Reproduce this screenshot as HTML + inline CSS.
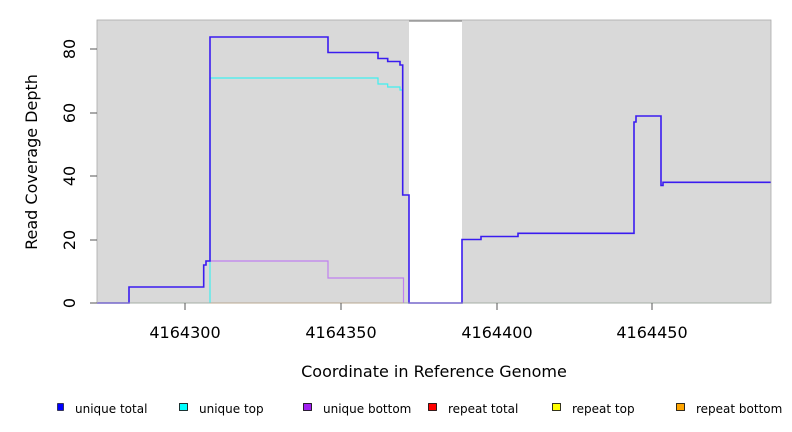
<!DOCTYPE html>
<html><head><style>body{margin:0;background:#fff}svg{display:block}</style></head><body>
<svg width="792" height="432" xmlns="http://www.w3.org/2000/svg" font-family="DejaVu Sans, sans-serif">
<rect x="97" y="20" width="674" height="283" fill="#d9d9d9"/>
<rect x="409" y="20" width="53" height="283" fill="#fff"/>
<line x1="409" y1="21" x2="462" y2="21" stroke="#888" stroke-width="1.2"/>
<line x1="97" y1="303" x2="771" y2="303" stroke="#8fbf8f" stroke-width="1"/>
<line x1="210" y1="303" x2="403" y2="303" stroke="#f0a030" stroke-width="1"/>
<polyline fill="none" stroke="#40f0f0" stroke-width="1.2" points="210,303 210,78 378,78 378,84 387.7,84 387.7,87 400,87 400,90 403,90"/>
<polyline fill="none" stroke="#c080f0" stroke-width="1.2" points="206,265 206,261 328,261 328,278 403.5,278 403.5,303"/>
<polyline fill="none" stroke="#3a1cf0" stroke-width="1.6" points="97,303 129,303 129,287 203.7,287 203.7,265 206,265 206,261 210,261 210,37 328,37 328,52.5 378,52.5 378,58.5 387.7,58.5 387.7,61.5 400,61.5 400,65 402.7,65 402.7,195 409,195 409,303 462,303 462,239.5 481,239.5 481,236.5 518,236.5 518,233.3 634,233.3 634,122 636,122 636,116 661,116 661,185.5 663,185.5 663,182.3 771,182.3"/>
<rect x="97" y="20" width="674" height="283" fill="none" stroke="#aaa" stroke-width="0.8"/>
<g stroke="#555" stroke-width="1">
<line x1="90" y1="303" x2="97" y2="303"/><line x1="90" y1="240" x2="97" y2="240"/><line x1="90" y1="176" x2="97" y2="176"/><line x1="90" y1="113" x2="97" y2="113"/><line x1="90" y1="49" x2="97" y2="49"/>
<line x1="185" y1="303" x2="185" y2="310"/><line x1="341" y1="303" x2="341" y2="310"/><line x1="497" y1="303" x2="497" y2="310"/><line x1="652" y1="303" x2="652" y2="310"/>
</g>
<g font-size="16" fill="#000" text-anchor="middle">
<text transform="translate(75,303) rotate(-90)">0</text>
<text transform="translate(75,240) rotate(-90)">20</text>
<text transform="translate(75,176) rotate(-90)">40</text>
<text transform="translate(75,113) rotate(-90)">60</text>
<text transform="translate(75,49) rotate(-90)">80</text>
<text x="185" y="338">4164300</text><text x="341" y="338">4164350</text><text x="497" y="338">4164400</text><text x="652" y="338">4164450</text>
<text x="434" y="377">Coordinate in Reference Genome</text>
<text transform="translate(37,162) rotate(-90)">Read Coverage Depth</text>
</g>
<g font-size="12" fill="#000">
<rect x="57.5" y="403.5" width="6" height="7" fill="#0000ff" stroke="#000" stroke-width="0.6"/><text x="75" y="413">unique total</text>
<rect x="179.5" y="403.5" width="8" height="7" fill="#00ffff" stroke="#000" stroke-width="0.8"/><text x="199" y="413">unique top</text>
<rect x="303.5" y="403.5" width="8" height="7" fill="#a020f0" stroke="#000" stroke-width="0.8"/><text x="323" y="413">unique bottom</text>
<rect x="428.5" y="403.5" width="8" height="7" fill="#ff0000" stroke="#000" stroke-width="0.8"/><text x="448" y="413">repeat total</text>
<rect x="552.5" y="403.5" width="8" height="7" fill="#ffff00" stroke="#000" stroke-width="0.8"/><text x="572" y="413">repeat top</text>
<rect x="676.5" y="403.5" width="8" height="7" fill="#ffa500" stroke="#000" stroke-width="0.8"/><text x="696" y="413">repeat bottom</text>
</g>
</svg>
</body></html>
